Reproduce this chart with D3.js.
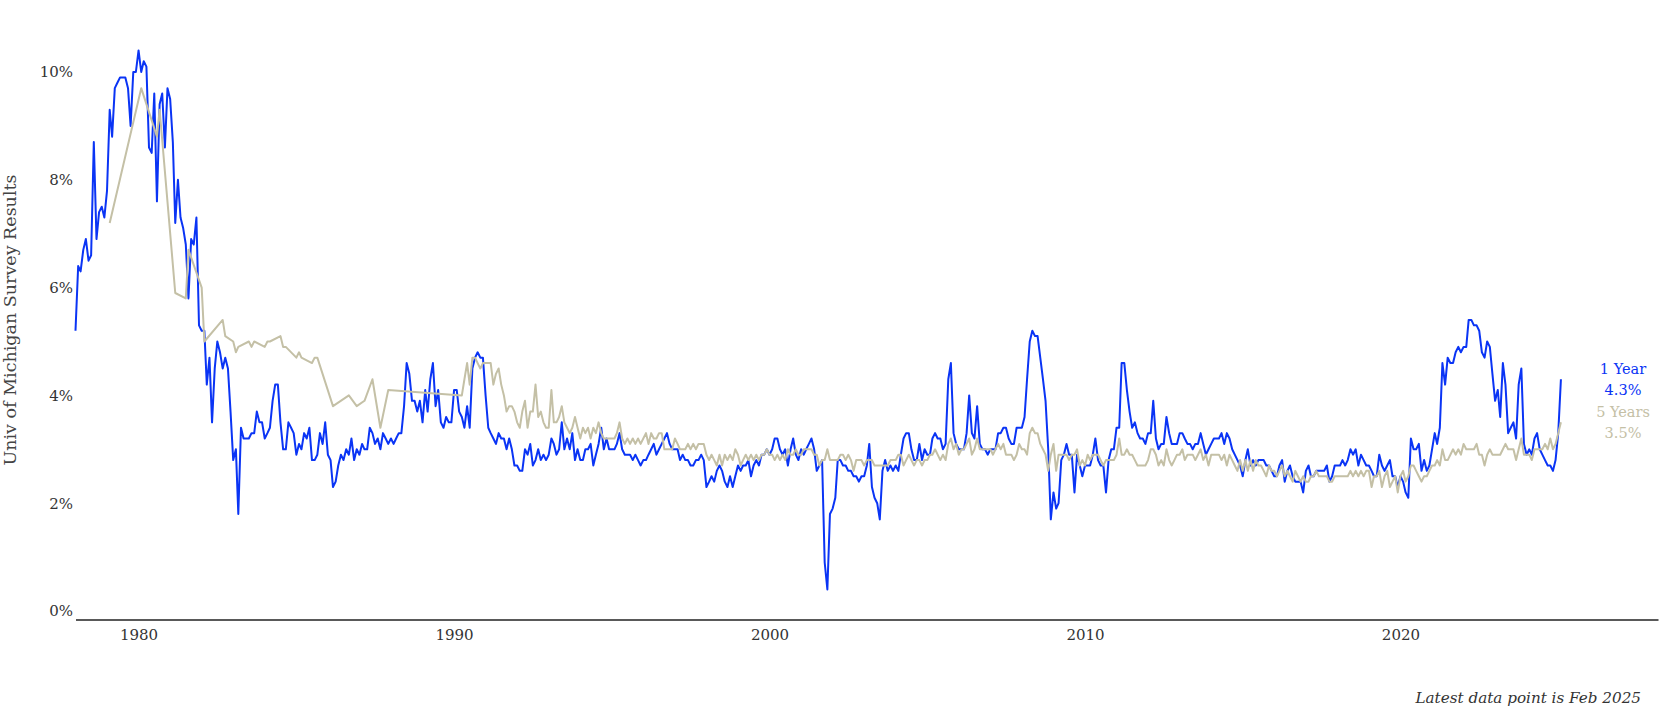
<!DOCTYPE html>
<html lang="en">
<head>
<meta charset="utf-8">
<title>Univ of Michigan inflation expectations</title>
<script src="https://d3js.org/d3.v7.min.js"></script>
<style>
body { margin: 0; background: #fff; }
text { font-family: "DejaVu Serif", serif; }
</style>
</head>
<body>
<div id="chart"></div>
<script>

// 1 year ahead, monthly from Jan 1978 (one row per year)
var oneYearStart = "1978-01";
var oneYear = [
  5.2,6.4,6.3,6.7,6.9,6.5,6.6,8.7,6.9,7.4,7.5,7.3,
  7.8,9.3,8.8,9.7,9.8,9.9,9.9,9.9,9.7,9.0,10.0,10.0,
  10.4,10.0,10.2,10.1,8.6,8.5,9.6,7.6,9.4,9.6,8.6,9.7,
  9.5,8.7,7.2,8.0,7.3,7.1,6.8,5.8,6.9,6.8,7.3,5.3,
  5.2,5.2,4.2,4.7,3.5,4.5,5.0,4.8,4.5,4.7,4.5,3.7,
  2.8,3.0,1.8,3.4,3.2,3.2,3.2,3.3,3.3,3.7,3.5,3.5,
  3.2,3.3,3.4,3.9,4.2,4.2,3.5,3.0,3.0,3.5,3.4,3.3,
  2.9,3.1,3.0,3.3,3.2,3.4,2.8,2.8,2.9,3.3,3.1,3.5,
  2.9,2.8,2.3,2.4,2.7,2.9,2.8,3.0,2.9,3.2,2.8,3.0,
  2.9,3.1,3.0,3.0,3.4,3.3,3.1,3.2,3.0,3.3,3.2,3.1,
  3.2,3.1,3.2,3.3,3.3,3.8,4.6,4.4,3.9,3.9,3.7,3.9,
  3.5,4.1,3.7,4.3,4.6,3.8,4.1,3.5,3.4,3.6,3.5,3.5,
  4.1,4.1,3.7,3.6,3.4,3.8,3.4,4.5,4.7,4.8,4.7,4.7,
  4.0,3.4,3.3,3.2,3.1,3.3,3.2,3.2,3.0,3.2,3.0,2.7,
  2.7,2.6,2.6,3.0,2.9,3.1,2.7,2.8,3.0,2.8,2.9,2.8,
  2.9,3.2,3.1,2.9,3.0,3.5,3.0,3.2,3.0,3.3,2.8,3.0,
  2.8,2.8,3.0,3.0,3.1,2.7,2.9,3.1,3.4,3.0,3.2,3.0,
  3.0,3.0,3.1,3.3,3.0,2.9,2.9,2.9,2.8,2.9,2.8,2.7,
  2.8,2.8,2.9,3.0,3.1,2.9,3.0,3.1,3.2,3.3,3.1,3.0,
  3.0,3.0,2.8,2.9,2.8,2.8,2.7,2.7,2.8,2.8,2.9,2.8,
  2.3,2.4,2.5,2.4,2.6,2.7,2.6,2.4,2.3,2.5,2.3,2.5,
  2.7,2.6,2.7,2.7,2.8,2.5,2.7,2.8,2.7,2.9,2.9,3.0,
  2.9,3.0,3.2,3.2,3.0,2.9,3.0,2.7,3.0,3.2,2.9,2.8,
  3.0,2.9,3.0,3.1,3.2,3.0,2.6,2.7,2.8,0.9,0.4,1.8,
  1.9,2.1,2.8,2.8,2.7,2.7,2.6,2.6,2.5,2.5,2.4,2.5,
  2.5,2.7,3.1,2.3,2.1,2.0,1.7,2.6,2.8,2.6,2.7,2.6,
  2.7,2.6,2.9,3.2,3.3,3.3,3.0,2.8,2.8,3.1,2.8,3.0,
  2.9,2.9,3.2,3.3,3.2,3.2,3.0,3.1,4.3,4.6,3.3,3.1,
  3.0,3.0,3.0,3.3,4.0,3.3,3.2,3.8,3.1,3.0,3.0,2.9,
  3.0,3.0,3.0,3.3,3.3,3.4,3.4,3.2,3.1,3.1,3.4,3.4,
  3.4,3.6,4.3,5.0,5.2,5.1,5.1,4.7,4.3,3.9,3.0,1.7,
  2.2,1.9,2.0,2.8,2.9,3.1,2.9,2.9,2.2,2.9,2.7,2.5,
  2.7,2.7,2.7,2.9,3.2,2.8,2.7,2.7,2.2,2.8,3.0,3.0,
  3.4,3.4,4.6,4.6,4.1,3.7,3.4,3.5,3.3,3.2,3.2,3.1,
  3.3,3.3,3.9,3.2,3.0,3.1,3.1,3.6,3.3,3.1,3.1,3.1,
  3.3,3.3,3.2,3.1,3.1,3.0,3.1,3.1,3.3,3.1,2.9,3.0,
  3.1,3.2,3.2,3.2,3.3,3.1,3.3,3.2,3.0,2.9,2.8,2.7,
  2.5,2.8,3.0,2.7,2.8,2.7,2.8,2.8,2.8,2.7,2.7,2.6,
  2.5,2.5,2.7,2.8,2.4,2.6,2.7,2.5,2.4,2.4,2.4,2.2,
  2.6,2.7,2.5,2.5,2.6,2.6,2.6,2.6,2.7,2.4,2.5,2.7,
  2.7,2.7,2.8,2.7,2.8,3.0,2.9,3.0,2.7,2.9,2.8,2.7,
  2.7,2.6,2.5,2.5,2.9,2.7,2.6,2.7,2.8,2.5,2.5,2.3,
  2.5,2.4,2.2,2.1,3.2,3.0,3.0,3.1,2.6,2.8,2.6,2.7,
  3.0,3.3,3.1,3.4,4.6,4.2,4.7,4.6,4.6,4.8,4.9,4.8,
  4.9,4.9,5.4,5.4,5.3,5.3,5.2,4.8,4.7,5.0,4.9,4.4,
  3.9,4.1,3.6,4.6,4.2,3.3,3.4,3.5,3.2,4.2,4.5,3.1,
  2.9,3.0,2.9,3.2,3.3,3.0,2.9,2.8,2.7,2.7,2.6,2.8,
  3.3,4.3
];

// 5 years ahead: irregular surveys before 1990
var fiveYearEarlyDates = [
  "1979-02","1980-02","1980-08","1980-09","1981-03","1981-07","1981-08",
  "1982-01","1982-02","1982-09","1982-10","1983-01","1983-02","1983-03",
  "1983-07","1983-08","1983-09","1984-01","1984-02","1984-03","1984-07",
  "1984-08","1984-09","1985-01","1985-02","1985-03","1985-07","1985-08",
  "1985-09","1986-03","1986-09","1986-12","1987-03","1987-06","1987-09",
  "1987-12"
];
var fiveYearEarly = [
  7.2,9.7,8.8,9.3,5.9,5.8,6.7,
  6.0,5.0,5.4,5.1,5.0,4.8,4.9,
  5.0,4.9,5.0,4.9,5.0,5.0,5.1,
  4.9,4.9,4.7,4.8,4.7,4.6,4.7,
  4.7,3.8,4.0,3.8,3.9,4.3,3.4,
  4.1
];

// 5 years ahead, monthly from Apr 1990
var fiveYearStart = "1990-04";
var fiveYear = [
  4.0,4.3,4.6,4.2,4.7,4.7,4.6,4.5,4.6,
  4.6,4.6,4.6,4.2,4.4,4.5,4.2,4.0,3.7,3.8,3.8,3.7,
  3.5,3.4,3.7,3.9,3.4,3.7,3.7,4.2,3.6,3.7,3.5,3.4,
  3.4,4.1,3.5,3.5,3.6,3.8,3.5,3.4,3.3,3.4,3.6,3.4,
  3.2,3.4,3.3,3.4,3.2,3.4,3.3,3.5,3.3,3.2,3.2,3.2,
  3.2,3.2,3.3,3.5,3.2,3.1,3.2,3.1,3.2,3.1,3.2,3.1,
  3.2,3.3,3.1,3.3,3.2,3.2,3.3,3.3,3.0,3.0,3.0,3.0,
  3.2,3.1,3.0,3.0,3.0,3.1,3.0,3.1,3.0,3.1,3.1,3.1,
  2.9,2.8,2.9,2.8,2.7,2.9,2.7,2.9,2.8,2.9,2.8,3.0,
  2.9,2.7,2.8,2.9,2.8,2.9,2.8,2.9,2.8,2.9,2.9,3.0,
  2.9,2.9,2.8,2.9,2.8,2.9,2.8,3.0,2.9,2.9,3.0,2.9,
  2.9,3.0,3.0,3.0,3.0,2.9,2.9,2.7,2.8,2.8,3.0,2.8,
  2.8,2.8,2.8,2.9,2.9,2.8,2.9,2.8,2.6,2.8,2.8,2.8,
  2.7,2.8,2.8,2.8,2.7,2.7,2.7,2.7,2.7,2.7,2.8,2.8,
  2.8,2.9,2.9,2.7,2.8,2.9,2.8,2.7,2.8,2.8,2.7,2.8,
  2.8,2.9,2.9,3.0,2.9,2.8,2.9,2.8,3.1,3.2,3.0,3.1,
  2.9,3.0,3.0,3.1,3.2,2.9,3.0,3.2,3.0,3.0,3.0,3.0,
  3.0,2.9,3.0,3.1,3.0,3.1,2.9,2.9,2.9,2.8,2.9,3.1,
  3.0,3.0,2.9,3.3,3.4,3.3,3.3,3.1,3.0,2.9,2.6,2.9,
  3.1,2.6,2.9,2.9,2.9,2.9,2.8,2.9,2.9,3.0,2.7,2.8,
  2.7,2.9,2.8,2.9,2.9,2.9,2.8,2.7,2.8,2.8,2.8,2.8,
  2.9,3.2,2.9,2.9,3.0,2.9,2.9,2.8,2.7,2.7,2.7,2.7,
  2.8,3.0,3.0,2.9,2.7,2.8,2.7,3.0,2.8,2.7,2.8,2.9,
  2.9,3.0,2.8,2.9,2.9,2.9,2.8,2.9,3.0,2.8,2.9,2.7,
  2.9,2.9,2.9,2.9,2.8,2.9,2.7,2.9,2.8,2.7,2.6,2.8,
  2.6,2.8,2.6,2.8,2.6,2.8,2.7,2.7,2.6,2.5,2.7,2.6,
  2.6,2.5,2.6,2.7,2.5,2.6,2.5,2.4,2.6,2.5,2.4,2.5,
  2.4,2.4,2.5,2.5,2.6,2.5,2.5,2.5,2.5,2.4,2.4,2.5,
  2.5,2.5,2.5,2.5,2.5,2.6,2.5,2.6,2.5,2.6,2.5,2.6,
  2.6,2.3,2.5,2.5,2.6,2.3,2.5,2.6,2.3,2.4,2.5,2.2,
  2.5,2.6,2.4,2.5,2.7,2.7,2.6,2.5,2.4,2.5,2.5,2.6,
  2.7,2.7,2.8,2.7,3.0,2.8,2.8,2.9,3.0,2.9,3.0,2.9,
  3.1,3.0,3.0,3.0,3.0,3.1,2.9,2.9,2.7,2.9,3.0,2.9,
  2.9,2.9,2.9,3.0,3.1,3.0,3.0,3.0,2.8,3.0,3.2,2.9,
  2.9,2.9,2.8,3.0,3.0,3.0,3.0,3.1,3.0,3.2,3.0,3.1,
  3.3,3.5
];

var xTicks = [1980, 1990, 2000, 2010, 2020];
var yTicks = [0, 2, 4, 6, 8, 10];
var seriesNames = ["1 Year", "5 Years"];
var seriesColors = ["#0a34f5", "#c4c0a6"];

var width = 1680, height = 720;

var svg = d3.select("#chart")
  .append("svg")
    .attr("width", width)
    .attr("height", height);

var parseMonth = d3.timeParse("%Y-%m");

function monthly(start, values) {
  var d0 = parseMonth(start);
  return values.map(function(v, i) { return {date: d3.timeMonth.offset(d0, i), value: v}; });
}

var oneData = monthly(oneYearStart, oneYear);
var fiveData = fiveYearEarlyDates
  .map(function(d, i) { return {date: parseMonth(d), value: fiveYearEarly[i]}; })
  .concat(monthly(fiveYearStart, fiveYear));

var x = d3.scaleTime()
  .domain([new Date(1978, 0, 1), new Date(2028, 2, 1)])
  .range([75.5, 1658]);

var y = d3.scaleLinear()
  .domain([0, 10])
  .range([611, 72]);

// x axis sits a little under the zero line
svg.append("g")
  .attr("transform", "translate(0," + (y(0) + 8.5) + ")")
  .call(d3.axisBottom(x)
    .tickValues(xTicks.map(function(d) { return new Date(d, 0, 1); }))
    .tickFormat(d3.timeFormat("%Y"))
    .tickSize(0)
    .tickPadding(10))
  .call(function(g) {
    g.select(".domain").attr("stroke", "#222").attr("stroke-width", 1.4);
    g.selectAll("text").attr("fill", "#333").style("font-size", "15px").style("font-family", "DejaVu Serif");
  });

// y axis: labels only
svg.append("g")
  .attr("transform", "translate(73,0)")
  .call(d3.axisLeft(y)
    .tickValues(yTicks)
    .tickFormat(function(d) { return d + "%"; })
    .tickSize(0)
    .tickPadding(0))
  .call(function(g) {
    g.select(".domain").remove();
    g.selectAll("text").attr("fill", "#333").style("font-size", "15px").style("font-family", "DejaVu Serif");
  });

svg.append("text")
  .attr("transform", "translate(16,320) rotate(-90)")
  .attr("text-anchor", "middle")
  .attr("fill", "#444")
  .style("font-size", "17.5px")
  .text("Univ of Michigan Survey Results");

var line = d3.line()
  .x(function(d) { return x(d.date); })
  .y(function(d) { return y(d.value); });

svg.append("path")
  .datum(oneData)
  .attr("d", line)
  .attr("fill", "none")
  .attr("stroke", seriesColors[0])
  .attr("stroke-width", 2)
  .attr("stroke-linejoin", "round");

svg.append("path")
  .datum(fiveData)
  .attr("d", line)
  .attr("fill", "none")
  .attr("stroke", seriesColors[1])
  .attr("stroke-width", 2)
  .attr("stroke-linejoin", "round");

// end labels, centred on each series' last value
[oneData, fiveData].forEach(function(data, i) {
  var last = data[data.length - 1];
  var g = svg.append("g")
    .attr("fill", seriesColors[i])
    .attr("text-anchor", "middle")
    .style("font-size", "14.5px");
  g.append("text")
    .attr("x", 1623)
    .attr("y", y(last.value) - 10.5)
    .attr("dominant-baseline", "central")
    .text(seriesNames[i]);
  g.append("text")
    .attr("x", 1623)
    .attr("y", y(last.value) + 10.5)
    .attr("dominant-baseline", "central")
    .text(last.value.toFixed(1) + "%");
});

svg.append("text")
  .attr("x", 1641)
  .attr("y", 703)
  .attr("text-anchor", "end")
  .attr("fill", "#333")
  .style("font-size", "15.2px")
  .style("font-style", "italic")
  .text("Latest data point is Feb 2025");

</script>
</body>
</html>
